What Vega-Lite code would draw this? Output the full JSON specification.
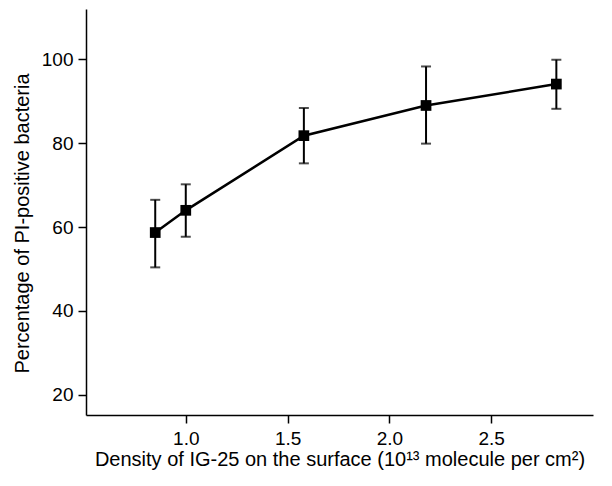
{
  "$schema": "https://vega.github.io/schema/vega-lite/v6.json",
  "width": 507,
  "height": 406,
  "autosize": {"type": "none"},
  "padding": {"left": 86, "top": 9, "right": 19, "bottom": 71},
  "background": "white",
  "config": {
    "view": {"stroke": null},
    "font": "Liberation Sans",
    "axis": {
      "grid": false,
      "domainColor": "black",
      "domainWidth": 1.5,
      "tickColor": "black",
      "tickWidth": 1.5,
      "tickSize": 8,
      "labelColor": "black",
      "labelFont": "Liberation Sans",
      "labelFontSize": 19,
      "titleFont": "Liberation Sans",
      "titleFontSize": 20,
      "titleFontWeight": "normal",
      "titleColor": "black"
    }
  },
  "data": {
    "values": [
      {"density": 0.85, "pct": 58.7, "lo": 50.4, "hi": 66.5},
      {"density": 1.0, "pct": 64.0, "lo": 57.7, "hi": 70.2},
      {"density": 1.58, "pct": 81.8, "lo": 75.2, "hi": 88.4},
      {"density": 2.18, "pct": 89.0, "lo": 79.9, "hi": 98.3},
      {"density": 2.82, "pct": 94.1, "lo": 88.2, "hi": 99.9}
    ]
  },
  "encoding": {
    "x": {
      "field": "density",
      "type": "quantitative",
      "scale": {"domain": [0.51, 3.0], "nice": false, "zero": false},
      "axis": {
        "values": [1.0, 1.5, 2.0, 2.5],
        "format": ".1f",
        "labelPadding": 6,
        "titlePadding": 1,
        "title": "Density of IG-25 on the surface (10¹³ molecule per cm²)"
      }
    }
  },
  "layer": [
    {
      "mark": {"type": "rule", "color": "black", "strokeWidth": 2},
      "encoding": {
        "y": {"field": "lo", "type": "quantitative",
          "scale": {"domain": [15.2, 112], "nice": false, "zero": false},
          "axis": {"values": [20, 40, 60, 80, 100], "labelPadding": 5, "titlePadding": 9, "titleY": 214, "title": "Percentage of PI-positive bacteria"}},
        "y2": {"field": "hi"}
      }
    },
    {
      "mark": {"type": "tick", "color": "black", "orient": "horizontal", "size": 10, "thickness": 2},
      "encoding": {"y": {"field": "lo", "type": "quantitative"}}
    },
    {
      "mark": {"type": "tick", "color": "black", "orient": "horizontal", "size": 10, "thickness": 2},
      "encoding": {"y": {"field": "hi", "type": "quantitative"}}
    },
    {
      "mark": {"type": "line", "color": "black", "strokeWidth": 2.5},
      "encoding": {"y": {"field": "pct", "type": "quantitative"}}
    },
    {
      "mark": {"type": "point", "shape": "square", "filled": true, "color": "black", "size": 115, "opacity": 1},
      "encoding": {"y": {"field": "pct", "type": "quantitative"}}
    }
  ]
}
